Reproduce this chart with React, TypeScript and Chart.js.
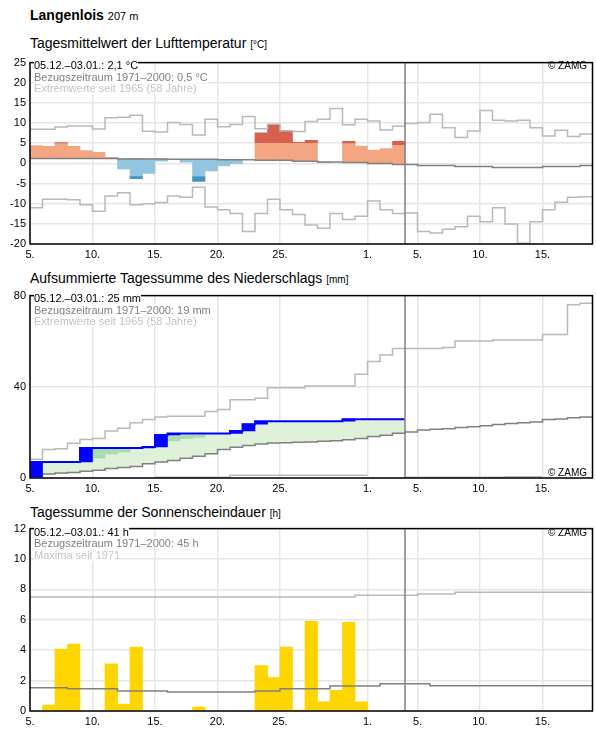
import React, { useEffect, useRef } from 'react';
import { Chart, registerables } from 'chart.js';

Chart.register(...registerables);

// ---------- axis / period ----------
const DAYS = 45; // 05.12. .. 18.01. (index 0 = 5 Dec)
const todayIndex = 30; // start of 04.01.
const xTickDays = [0, 5, 10, 15, 20, 27, 31, 36, 41];
const xTickLabels = ['5.', '10.', '15.', '20.', '25.', '1.', '5.', '10.', '15.'];

// ---------- temperature (°C) ----------
const tempDaily = [4.4, 4.2, 5.15, 4.2, 3.2, 2.75, 1.5, -1.4, -3.8, -2.5, 0.55, 1.0, 0.3, -4.5, -1.9, -0.6, -0.1, 0.9, 7.6, 9.65, 8.1, 5.25, 5.7, 0.15, 0.35, 5.5, 4.3, 3.25, 3.7, 5.5];
const tempSplit = [null, null, 4.9, null, null, null, null, null, -3.1, null, null, null, null, -3.2, null, null, null, null, 5.0, 5.0, 5.0, 5.0, 5.0, null, null, 4.9, null, null, null, 4.45];
const tempRef = [1.2, 1.2, 1.2, 1.2, 1.2, 1.2, 1.2, 1.1, 1.1, 1.1, 1.1, 1.0, 1.0, 1.0, 1.0, 0.9, 0.9, 0.9, 0.75, 0.75, 0.75, 0.55, 0.55, 0.35, 0.35, 0.2, 0.2, 0.0, 0.0, -0.25, -0.25, -0.5, -0.5, -0.5, -0.75, -0.75, -0.75, -1.0, -1.0, -1.0, -1.0, -0.75, -0.75, -0.75, -0.5];
const tempMax = [8.45, 8.45, 9.0, 9.25, 9.25, 8.5, 11.3, 11.45, 11.95, 8.0, 7.8, 10.15, 9.65, 7.05, 10.95, 9.1, 9.65, 11.6, 8.6, 9.7, 8.1, 7.9, 10.4, 10.95, 13.6, 9.6, 10.95, 10.5, 8.3, 9.2, 9.9, 10.15, 12.2, 8.85, 6.4, 8.05, 13.1, 10.7, 10.5, 10.7, 8.85, 6.8, 8.2, 6.65, 7.3];
const tempMin = [-11.0, -8.9, -8.9, -9.0, -10.25, -11.9, -8.1, -7.3, -10.25, -10.0, -9.7, -8.1, -8.4, -5.95, -10.8, -11.5, -12.45, -16.9, -12.45, -8.9, -11.5, -12.7, -15.3, -16.1, -12.45, -13.9, -13.1, -9.35, -11.5, -12.45, -12.3, -16.9, -17.3, -16.35, -15.7, -13.1, -14.5, -11.0, -15.05, -19.8, -14.5, -11.5, -9.65, -8.4, -8.3];

// ---------- precipitation, cumulative (mm) ----------
const precipSum = [7.0, 7.0, 7.0, 7.0, 13.2, 13.2, 13.2, 13.2, 13.2, 13.6, 18.9, 19.5, 19.5, 19.5, 19.5, 19.5, 20.6, 23.6, 24.9, 24.9, 24.9, 24.9, 24.9, 24.9, 24.9, 25.8, 25.8, 25.8, 25.8, 25.8];
const precipMidLow = [null, null, null, null, null, 8.7, 10.5, 11.3, null, null, null, 16.3, 17.3, 17.8, null, null, null, null, null, null, null, null, null, null, null, null, null, null, null, null];
const precipMidHigh = [null, null, null, null, null, 13.2, 13.2, 13.2, null, null, null, 18.9, 18.9, 18.9, null, null, null, null, null, null, null, null, null, null, null, null, null, null, null, null];
const precipRef = [1.3, 1.7, 2.15, 2.4, 3.0, 3.4, 4.15, 4.6, 5.0, 6.3, 7.0, 7.7, 8.7, 9.5, 10.6, 12.5, 13.5, 14.2, 14.9, 15.3, 15.5, 15.7, 15.8, 16.1, 16.3, 16.8, 17.3, 18.2, 18.8, 19.6, 20.2, 21.1, 21.4, 21.6, 22.1, 22.5, 22.9, 23.5, 23.9, 24.2, 24.6, 25.7, 25.9, 26.4, 26.7];
const precipMax = [8.2, 12.5, 12.8, 15.2, 16.9, 17.3, 20.6, 21.8, 24.2, 25.7, 26.8, 27.1, 27.1, 27.1, 29.2, 30.0, 34.3, 34.3, 35.0, 39.6, 39.6, 39.6, 40.3, 40.3, 40.3, 40.3, 45.5, 51.1, 53.9, 56.8, 56.8, 56.8, 56.8, 57.2, 60.1, 60.1, 60.1, 60.5, 60.5, 60.5, 60.5, 62.9, 62.9, 76.0, 76.6];
const precipMin = [null, null, null, null, null, null, null, null, null, null, 0.3, 0.3, 0.3, 0.3, 0.3, 0.3, 1.2, 1.2, 1.2, 1.2, 1.2, 1.2, 1.2, 1.2, 1.2, 1.2, 1.2, null, null, null, 0.3, 0.3, 0.3, 0.3, 0.3, 0.3, 0.3, 0.3, 0.5, 0.5, 0.5, null, null, null, null];

// ---------- sunshine (h) ----------
const sunDaily = [0, 0.39, 4.08, 4.4, 0, 0, 3.1, 0.45, 4.2, 0, 0, 0, 0, 0.26, 0, 0, 0, 0, 2.98, 2.2, 4.2, 0.06, 5.9, 0.6, 1.36, 5.83, 0.6, 0, 0, 0];
const sunRef = [1.53, 1.53, 1.53, 1.47, 1.47, 1.47, 1.47, 1.32, 1.32, 1.32, 1.32, 1.25, 1.25, 1.25, 1.25, 1.25, 1.25, 1.25, 1.32, 1.32, 1.47, 1.47, 1.47, 1.47, 1.64, 1.64, 1.64, 1.64, 1.79, 1.79, 1.79, 1.79, 1.66, 1.66, 1.66, 1.66, 1.66, 1.66, 1.66, 1.66, 1.66, 1.66, 1.66, 1.66, 1.66];
const sunMax = [7.5, 7.5, 7.5, 7.5, 7.5, 7.5, 7.5, 7.5, 7.5, 7.5, 7.5, 7.5, 7.5, 7.5, 7.5, 7.5, 7.5, 7.5, 7.5, 7.5, 7.5, 7.5, 7.5, 7.5, 7.5, 7.5, 7.62, 7.62, 7.62, 7.62, 7.62, 7.7, 7.7, 7.7, 7.82, 7.82, 7.82, 7.82, 7.82, 7.82, 7.82, 7.82, 7.82, 7.82, 7.82];

// ---------- styling ----------
const FONT = "'Liberation Sans', Arial, Helvetica, sans-serif";
const GRID = '#e6e6e6';
const EXTREME = '#b9b9b9';
const REF = '#808080';

type Pair = [number, number] | null;

function stepPoints(values: (number | null)[]) {
  const pts: { x: number; y: number | null }[] = [];
  values.forEach((v, d) => {
    if (v === null || v === undefined) pts.push({ x: d + 0.5, y: null });
    else {
      pts.push({ x: d, y: v });
      pts.push({ x: d + 1, y: v });
    }
  });
  return pts;
}

function lineDs(data: any[], color: string, width: number, order: number) {
  return {
    type: 'line',
    data,
    borderColor: color,
    borderWidth: width,
    pointRadius: 0,
    fill: false,
    tension: 0,
    spanGaps: false,
    order,
  };
}

function barDs(pairs: Pair[], color: string, order: number) {
  const data: any[] = [];
  pairs.forEach((p, d) => {
    if (p && Math.abs(p[1] - p[0]) > 0.01) {
      data.push({ x: d + 0.5, y: [Math.min(p[0], p[1]), Math.max(p[0], p[1])] });
    }
  });
  return {
    type: 'bar',
    data,
    backgroundColor: color,
    borderWidth: 0,
    grouped: false,
    barPercentage: 1,
    categoryPercentage: 1,
    order,
  };
}

function todayLine(yMin: number, yMax: number) {
  return lineDs([{ x: todayIndex, y: yMin }, { x: todayIndex, y: yMax }], REF, 1.5, 0);
}

const framePlugin = {
  id: 'frame',
  afterDatasetsDraw(chart: any) {
    const { ctx, chartArea: a } = chart;
    ctx.save();
    ctx.strokeStyle = '#000';
    ctx.lineWidth = 1.5;
    ctx.strokeRect(a.left, a.top, a.right - a.left, a.bottom - a.top);
    ctx.restore();
  },
};

function makeConfig(datasets: any[], yMin: number, yMax: number, yStep: number, padTop: number) {
  const tickFont = { family: FONT, size: 11 };
  return {
    type: 'bar',
    data: { datasets },
    options: {
      responsive: false,
      animation: false,
      events: [],
      layout: { padding: { top: padTop, right: 3.5, bottom: 0, left: 0 } },
      plugins: { legend: { display: false }, tooltip: { enabled: false }, title: { display: false } },
      scales: {
        x: {
          type: 'linear',
          min: 0,
          max: DAYS,
          offset: false,
          grid: { color: GRID, lineWidth: 1.5, drawTicks: false, offset: false },
          border: { display: false },
          afterBuildTicks: (s: any) => {
            s.ticks = xTickDays.map((v) => ({ value: v }));
          },
          afterFit: (s: any) => {
            s.height = 18;
          },
          ticks: {
            autoSkip: false,
            maxRotation: 0,
            padding: 4,
            color: '#000',
            font: tickFont,
            callback: (_v: any, i: number) => xTickLabels[i],
          },
        },
        y: {
          type: 'linear',
          min: yMin,
          max: yMax,
          grid: { color: GRID, lineWidth: 1.5, drawTicks: false },
          border: { display: false },
          afterFit: (s: any) => {
            s.width = 30;
          },
          ticks: { stepSize: yStep, padding: 4, color: '#000', font: tickFont },
        },
      },
    },
    plugins: [framePlugin],
  };
}

function buildTemp() {
  const n = tempDaily.length;
  const warmLight: Pair[] = Array(n).fill(null);
  const warmDark: Pair[] = Array(n).fill(null);
  const coldLight: Pair[] = Array(n).fill(null);
  const coldDark: Pair[] = Array(n).fill(null);
  tempDaily.forEach((v, d) => {
    const r = tempRef[d];
    const s = tempSplit[d];
    if (v >= r) {
      const hi = s !== null ? Math.min(s, v) : v;
      warmLight[d] = [r, hi];
      if (s !== null && v > s) warmDark[d] = [s, v];
    } else {
      const lo = s !== null ? Math.max(s, v) : v;
      coldLight[d] = [lo, r];
      if (s !== null && v < s) coldDark[d] = [v, s];
    }
  });
  const datasets = [
    barDs(warmLight, '#f4a582', 6),
    barDs(warmDark, '#d6604d', 6),
    barDs(coldLight, '#92c5de', 6),
    barDs(coldDark, '#4393c3', 6),
    lineDs(stepPoints(tempMax), EXTREME, 1.5, 3),
    lineDs(stepPoints(tempMin), EXTREME, 1.5, 3),
    lineDs(stepPoints(tempRef), REF, 1.5, 2),
    todayLine(-20, 25),
  ];
  return makeConfig(datasets, -20, 25, 5, 7);
}

function buildPrecip() {
  const n = precipSum.length;
  const green: Pair[] = Array(n).fill(null);
  const mid: Pair[] = Array(n).fill(null);
  const blue: Pair[] = Array(n).fill(null);
  precipSum.forEach((v, d) => {
    const r = precipRef[d];
    if (v > r) green[d] = [r, v];
    const lo = precipMidLow[d];
    const hi = precipMidHigh[d];
    if (lo !== null && hi !== null) mid[d] = [lo, hi];
    const prev = d === 0 ? 0 : precipSum[d - 1];
    if (v > prev) blue[d] = [prev, v];
  });
  const datasets = [
    barDs(green, '#dff2d9', 8),
    barDs(mid, '#a9dcb1', 7),
    lineDs(stepPoints(precipMax), EXTREME, 1.5, 4),
    lineDs(stepPoints(precipMin), EXTREME, 1.5, 4),
    lineDs(stepPoints(precipRef), REF, 1.5, 3),
    barDs(blue, '#0000ff', 2),
    lineDs(stepPoints(precipSum), '#0000ff', 2, 1),
    todayLine(0, 80),
  ];
  return makeConfig(datasets, 0, 80, 40, 7);
}

function buildSun() {
  const bars: Pair[] = sunDaily.map((v) => (v > 0 ? [0, v] : null));
  const datasets = [
    barDs(bars, '#ffd500', 6),
    lineDs(stepPoints(sunMax), EXTREME, 1.5, 3),
    lineDs(stepPoints(sunRef), REF, 1.5, 2),
    todayLine(0, 12),
  ];
  return makeConfig(datasets, 0, 12, 2, 7.5);
}

function ChartCanvas({ top, height, build }: { top: number; height: number; build: () => any }) {
  const ref = useRef<HTMLCanvasElement>(null);
  useEffect(() => {
    const chart = new Chart(ref.current as HTMLCanvasElement, build() as any);
    return () => chart.destroy();
  }, []);
  return (
    <canvas
      ref={ref}
      width={596}
      height={height}
      style={{ position: 'absolute', left: 0, top, width: 596, height }}
    />
  );
}

function Info({ top, lines }: { top: number; lines: { text: string; color: string }[] }) {
  return (
    <div style={{ position: 'absolute', left: 34, top, fontSize: 11, lineHeight: '11.5px', whiteSpace: 'nowrap' }}>
      {lines.map((l, i) => (
        <div key={i}>
          <span style={{ background: '#fff', color: l.color }}>{l.text}</span>
        </div>
      ))}
    </div>
  );
}

function Title({ top, text, unit }: { top: number; text: string; unit: string }) {
  return (
    <div style={{ position: 'absolute', left: 30, top, fontSize: 14, lineHeight: '14px', whiteSpace: 'nowrap', color: '#000' }}>
      {text} <span style={{ fontSize: 10 }}>{unit}</span>
    </div>
  );
}

function Copy({ top }: { top: number }) {
  return (
    <div style={{ position: 'absolute', right: 9, top, fontSize: 10, lineHeight: '10px', whiteSpace: 'nowrap', color: '#000' }}>
      © ZAMG
    </div>
  );
}

export default function App() {
  return (
    <div style={{ position: 'absolute', left: 0, top: 0, width: 596, height: 729, overflow: 'hidden', fontFamily: FONT, background: '#fff' }}>
      <div style={{ position: 'absolute', left: 30, top: 7.6, fontSize: 14, lineHeight: '14px', fontWeight: 'bold', whiteSpace: 'nowrap' }}>
        Langenlois <span style={{ fontSize: 11, fontWeight: 'normal' }}>207 m</span>
      </div>

      <Title top={36.1} text="Tagesmittelwert der Lufttemperatur" unit="[°C]" />
      <ChartCanvas top={52} height={210} build={buildTemp} />
      <Info
        top={60.2}
        lines={[
          { text: '05.12.–03.01.: 2,1 °C', color: '#000' },
          { text: 'Bezugszeitraum 1971–2000: 0,5 °C', color: '#808080' },
          { text: 'Extremwerte seit 1965 (58 Jahre)', color: '#c4c4c4' },
        ]}
      />
      <Copy top={60.5} />

      <Title top={270.9} text="Aufsummierte Tagessumme des Niederschlags" unit="[mm]" />
      <ChartCanvas top={285} height={211} build={buildPrecip} />
      <Info
        top={293.2}
        lines={[
          { text: '05.12.–03.01.: 25 mm', color: '#000' },
          { text: 'Bezugszeitraum 1971–2000: 19 mm', color: '#808080' },
          { text: 'Extremwerte seit 1965 (58 Jahre)', color: '#c4c4c4' },
        ]}
      />
      <Copy top={467.5} />

      <Title top={505.1} text="Tagessumme der Sonnenscheindauer" unit="[h]" />
      <ChartCanvas top={518} height={211} build={buildSun} />
      <Info
        top={526.7}
        lines={[
          { text: '05.12.–03.01.: 41 h', color: '#000' },
          { text: 'Bezugszeitraum 1971–2000: 45 h', color: '#808080' },
          { text: 'Maxima seit 1971', color: '#c4c4c4' },
        ]}
      />
      <Copy top={527.5} />
    </div>
  );
}
